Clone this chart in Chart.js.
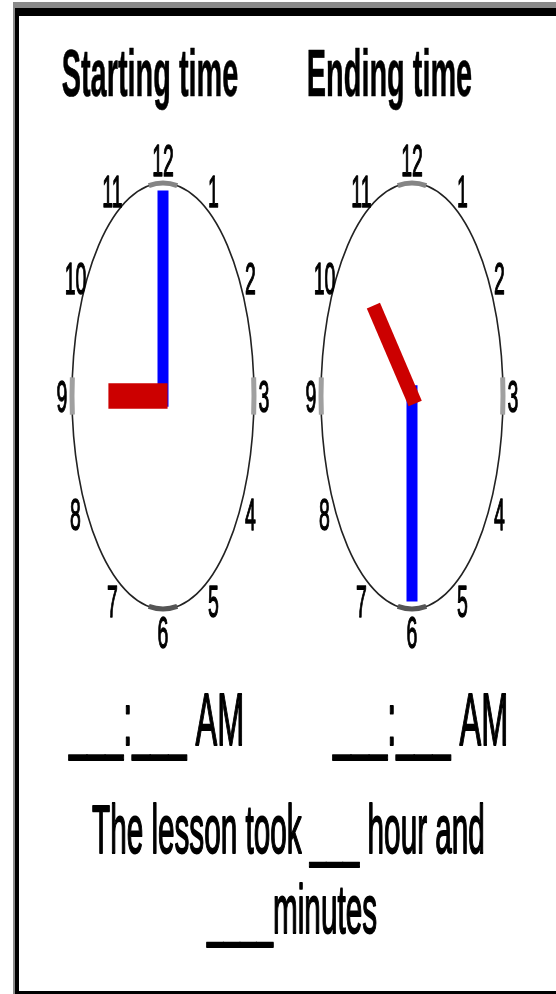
<!DOCTYPE html>
<html>
<head>
<meta charset="utf-8">
<script src="https://cdn.jsdelivr.net/npm/chart.js@4.4.1/dist/chart.umd.min.js"></script>
<style>
  html, body { margin: 0; padding: 0; background: #ffffff; }
  #wrap { width: 556px; height: 994px; position: relative; }
</style>
</head>
<body>
<div id="wrap"><canvas id="clocks"></canvas></div>
<script>
// worksheet data
const clockTitles = ["Starting time", "Ending time"]
const clockHours = [9, 10]
const clockMinutes = [0, 30]
const dialNumbers = ["12", "1", "2", "3", "4", "5", "6", "7", "8", "9", "10", "11"]
const answerLines = ["___:___ AM", "___:___ AM"]
const sentenceLines = ["The lesson took ___ hour and", "____minutes"]

// layout (pixels)
const W = 556
const H = 994
const RX = 91
const RY = 213
const CENTRE_PX = [163, 412]
const CENTRE_PY = 396
const STRETCH = RY / RX
const TEXT_STRETCH = 2.3
const NUM_R = 1.11
const MINUTE_LEN = 0.965
const HOUR_LEN = 0.6
const HAND_W = 11
const FONT = '"Liberation Sans", Arial, sans-serif'
const rad = Math.PI / 180

// clock centres in radius units
const clockX = CENTRE_PX.map((px) => (px - CENTRE_PX[0]) / RX)

function handWidth(angleDeg) {
  const ux = Math.sin(angleDeg * rad)
  const uy = Math.cos(angleDeg * rad)
  return (HAND_W * STRETCH) / Math.hypot(ux, STRETCH * uy)
}

function hand(cx, angleDeg, len, color, order) {
  // starts a little behind the centre so the hands overlap like the original
  const back = 0.05
  return {
    data: [
      { x: cx - back * Math.sin(angleDeg * rad), y: -back * Math.cos(angleDeg * rad) },
      { x: cx + len * Math.sin(angleDeg * rad), y: len * Math.cos(angleDeg * rad) },
    ],
    showLine: true,
    borderColor: color,
    backgroundColor: color,
    borderWidth: handWidth(angleDeg),
    borderCapStyle: "butt",
    pointRadius: 0,
    order: order,
  }
}

const datasets = []
clockX.forEach((cx, i) => {
  const minuteAngle = clockMinutes[i] * 6
  const hourAngle = ((clockHours[i] % 12) + clockMinutes[i] / 60) * 30
  datasets.push(hand(cx, minuteAngle, MINUTE_LEN, "#0000ff", 2))
  datasets.push(hand(cx, hourAngle, HOUR_LEN, "#cc0000", 1))
})

function stretchedText(ctx, text, x, y, size, weight, align, edge) {
  ctx.save()
  ctx.font = `${weight} ${size}px ${FONT}`
  ctx.textAlign = align
  ctx.textBaseline = "alphabetic"
  ctx.fillStyle = "#000000"
  ctx.strokeStyle = "#000000"
  ctx.lineWidth = edge
  ctx.lineJoin = "round"
  ctx.translate(x, y)
  ctx.scale(1, TEXT_STRETCH)
  ctx.fillText(text, 0, 0)
  if (edge > 0) ctx.strokeText(text, 0, 0)
  ctx.restore()
}

const worksheet = {
  id: "worksheet",
  beforeDatasetsDraw(chart) {
    const { ctx, scales } = chart
    const x = scales.x
    const y = scales.y

    // frame
    ctx.save()
    ctx.fillStyle = "#8a8a8a"
    ctx.fillRect(13, 2, W - 13, 6)
    ctx.fillRect(13, 2, 2, H - 2)
    ctx.fillStyle = "#000000"
    ctx.fillRect(15, 8, W - 15, 8)
    ctx.fillRect(15, 8, 4, H - 8)
    ctx.fillRect(15, 991, W - 15, 3)
    ctx.restore()

    clockX.forEach((cx) => {
      const px = x.getPixelForValue(cx)
      const py = y.getPixelForValue(0)
      const rx = x.getPixelForValue(cx + 1) - px
      const ry = py - y.getPixelForValue(1)

      ctx.save()
      ctx.strokeStyle = "#222222"
      ctx.lineWidth = 1.6
      ctx.beginPath()
      ctx.ellipse(px, py, rx, ry, 0, 0, 2 * Math.PI)
      ctx.stroke()

      ctx.lineWidth = 5
      ;[[-90, 9, "#858585"], [90, 9, "#555555"], [0, 5, "#a0a0a0"], [180, 5, "#a0a0a0"]].forEach(([a, span, c]) => {
        ctx.strokeStyle = c
        ctx.beginPath()
        ctx.ellipse(px, py, rx, ry, 0, (a - span) * rad, (a + span) * rad)
        ctx.stroke()
      })
      ctx.restore()

      dialNumbers.forEach((n, i) => {
        const a = i * 30 * rad
        const tx = x.getPixelForValue(cx + NUM_R * Math.sin(a))
        const ty = y.getPixelForValue(NUM_R * Math.cos(a))
        const size = 19.5
        stretchedText(ctx, n, tx, ty + (0.716 * size * TEXT_STRETCH) / 2, size, "normal", "center", 0.6)
      })
    })
  },
  afterDraw(chart) {
    const ctx = chart.ctx
    stretchedText(ctx, clockTitles[0], 150, 96, 28.9, "bold", "center", 0.3)
    stretchedText(ctx, clockTitles[1], 389.5, 96, 28.9, "bold", "center", 0.3)
    stretchedText(ctx, answerLines[0], 69, 745, 32.5, "normal", "left", 0.8)
    stretchedText(ctx, answerLines[1], 333, 745, 32.5, "normal", "left", 0.8)
    stretchedText(ctx, sentenceLines[0], 92, 853, 29.7, "normal", "left", 0.8)
    stretchedText(ctx, sentenceLines[1], 207, 933, 29.7, "normal", "left", 0.8)
  },
}

new Chart(document.getElementById("clocks"), {
  type: "scatter",
  data: { datasets: datasets },
  options: {
    responsive: true,
    maintainAspectRatio: false,
    animation: false,
    layout: { padding: 0 },
    scales: {
      x: {
        type: "linear",
        display: false,
        min: -CENTRE_PX[0] / RX,
        max: (W - CENTRE_PX[0]) / RX,
      },
      y: {
        type: "linear",
        display: false,
        min: (CENTRE_PY - H) / RY,
        max: CENTRE_PY / RY,
      },
    },
    plugins: {
      legend: { display: false },
      title: { display: false },
      tooltip: { enabled: false },
    },
  },
  plugins: [worksheet],
})
</script>
</body>
</html>
